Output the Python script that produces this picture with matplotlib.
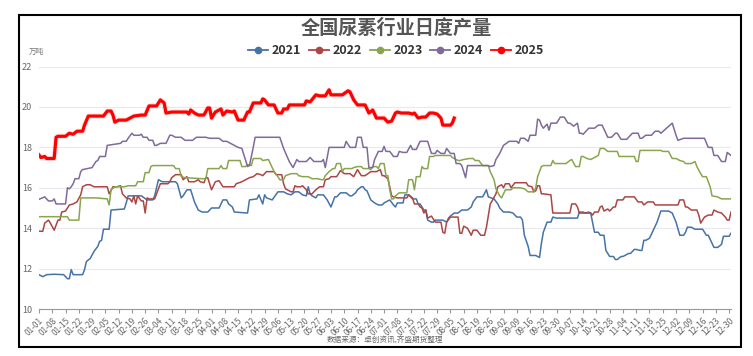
import numpy as np
import pandas as pd
import matplotlib
matplotlib.use("Agg")
import matplotlib.pyplot as plt
from matplotlib.patches import Rectangle

plt.rcParams['font.family'] = ['Noto Sans CJK SC', 'DejaVu Sans']

# -----------------------------
# Data: (day offset from 01-01, daily output in 万吨)
# -----------------------------
pts_2021 = [(0, 11.7), (2, 11.6), (4, 11.7), (8, 11.72), (13, 11.7), (15, 11.5), (16, 11.5), (17, 11.95),
            (18, 11.7), (23, 11.7), (24, 11.95), (25, 12.35), (27, 12.5), (29, 12.85), (31, 13.1), (32, 13.35),
            (33, 13.4), (34, 13.95), (37, 13.95), (38, 14.9), (45, 14.95), (46, 15.25), (47, 15.6), (52, 15.6),
            (54, 15.6), (57, 15.4), (60, 15.4), (61, 15.6), (63, 16.4), (65, 16.3), (72, 16.3), (73, 16.2),
            (75, 15.5), (76, 15.6), (78, 15.9), (80, 15.9), (82, 15.3), (84, 14.9), (86, 14.8), (89, 14.8),
            (91, 15.0), (95, 15.0), (97, 15.4), (99, 15.4), (100, 15.2), (102, 15.05), (103, 14.8), (110, 14.75),
            (111, 15.4), (115, 15.45), (116, 15.65), (118, 15.2), (119, 15.65), (120, 15.5), (123, 15.4),
            (126, 15.8), (129, 15.8), (131, 15.7), (133, 15.65), (135, 15.8), (137, 15.8), (139, 15.65),
            (141, 15.6), (142, 16.05), (143, 15.7), (144, 15.6), (146, 15.5), (147, 15.65), (150, 15.65),
            (152, 15.4), (154, 15.05), (155, 15.3), (156, 15.55), (157, 15.55), (159, 15.75), (162, 15.75),
            (164, 15.6), (165, 15.6), (167, 15.75), (168, 15.9), (170, 16.05), (171, 16.05), (172, 15.9),
            (173, 15.85), (175, 15.4), (177, 15.25), (179, 15.15), (181, 15.15), (182, 15.25), (184, 15.35),
            (185, 15.4), (187, 15.15), (188, 15.05), (189, 15.25), (192, 15.25), (193, 15.65), (195, 15.65),
            (197, 15.45), (199, 15.45), (200, 15.2), (201, 15.2), (203, 14.9), (204, 14.9), (205, 14.4),
            (207, 14.3), (208, 14.3), (209, 14.4), (213, 14.4), (215, 14.3), (216, 14.5), (217, 14.6),
            (219, 14.75), (221, 14.75), (223, 14.9), (226, 14.9), (228, 15.05), (229, 15.3), (231, 15.55),
            (234, 15.55), (236, 15.9), (237, 15.55), (240, 15.45), (242, 15.2), (243, 15.0), (245, 14.8),
            (248, 14.8), (250, 14.75), (252, 14.55), (254, 14.55), (255, 14.4), (256, 13.65), (258, 13.1),
            (259, 12.65), (262, 12.65), (264, 12.55), (265, 13.25), (266, 13.8), (268, 14.3), (270, 14.3),
            (271, 14.55), (273, 14.5), (284, 14.5), (285, 14.8), (287, 14.8), (288, 14.75), (290, 14.8),
            (291, 14.75), (293, 13.8), (295, 13.8), (296, 13.65), (298, 13.65), (299, 12.9), (301, 12.6),
            (303, 12.6), (304, 12.45), (305, 12.45), (307, 12.6), (308, 12.6), (311, 12.75), (312, 12.75),
            (314, 12.95), (315, 12.95), (317, 12.9), (318, 12.9), (319, 13.4), (320, 13.4), (322, 13.5),
            (324, 13.9), (326, 14.3), (328, 14.85), (332, 14.85), (334, 14.75), (336, 14.3), (338, 13.65),
            (340, 13.65), (341, 13.8), (342, 14.05), (344, 14.05), (346, 13.95), (350, 13.95), (352, 13.65),
            (353, 13.65), (356, 13.05), (358, 13.05), (360, 13.2), (361, 13.6), (364, 13.6), (365, 13.75)]

pts_2022 = [(0, 13.85), (2, 13.85), (3, 14.25), (5, 14.4), (6, 14.25), (8, 13.9), (10, 14.4), (11, 14.4),
            (12, 14.8), (14, 14.85), (16, 15.15), (18, 15.2), (20, 15.3), (22, 15.65), (23, 16.05), (25, 16.15),
            (27, 16.15), (29, 16.05), (36, 16.05), (37, 15.7), (39, 16.05), (41, 16.05), (43, 16.1), (44, 15.7),
            (46, 15.5), (48, 15.45), (49, 15.3), (50, 15.6), (51, 15.2), (52, 15.6), (54, 15.35), (55, 15.35),
            (56, 14.75), (57, 15.5), (58, 15.45), (61, 15.45), (62, 15.7), (64, 16.2), (68, 16.2), (69, 16.3),
            (70, 16.5), (72, 16.65), (75, 16.65), (76, 16.4), (78, 16.55), (79, 16.3), (82, 16.3), (84, 16.4),
            (85, 16.3), (87, 16.25), (88, 16.5), (89, 16.5), (90, 16.2), (91, 15.9), (93, 16.3), (95, 16.35),
            (96, 16.2), (97, 16.05), (103, 16.05), (104, 16.2), (107, 16.3), (111, 16.5), (113, 16.55),
            (115, 16.7), (117, 16.65), (118, 16.6), (120, 16.8), (124, 16.8), (125, 16.65), (128, 16.65),
            (129, 16.2), (130, 15.95), (133, 15.8), (134, 15.8), (135, 16.1), (136, 16.05), (138, 16.05),
            (139, 16.1), (141, 15.9), (142, 15.7), (144, 15.7), (146, 15.9), (148, 16.05), (150, 16.05),
            (151, 16.4), (153, 16.45), (154, 16.55), (157, 16.55), (159, 16.85), (161, 16.7), (164, 16.7),
            (166, 16.55), (168, 16.9), (170, 16.6), (172, 16.6), (175, 16.8), (178, 16.8), (180, 16.9),
            (181, 16.6), (182, 16.6), (184, 16.45), (185, 16.05), (186, 15.6), (187, 15.55), (189, 15.5),
            (194, 15.5), (195, 15.65), (197, 15.5), (198, 15.2), (200, 15.2), (201, 15.05), (202, 15.0),
            (203, 14.75), (204, 14.9), (205, 14.5), (207, 14.6), (209, 14.3), (212, 14.3), (213, 13.8),
            (214, 13.75), (215, 14.3), (217, 14.55), (221, 14.55), (222, 13.75), (223, 13.75), (224, 14.1),
            (226, 14.0), (228, 13.65), (229, 13.9), (231, 13.9), (233, 13.65), (235, 13.65), (236, 14.05),
            (238, 15.2), (239, 15.35), (241, 15.7), (242, 16.05), (244, 16.15), (245, 16.0), (246, 16.2),
            (248, 16.2), (249, 16.0), (251, 16.25), (257, 16.25), (258, 16.1), (260, 16.05), (261, 15.8),
            (262, 15.85), (263, 16.1), (264, 16.1), (265, 15.7), (266, 15.7), (270, 15.65), (271, 14.75),
            (280, 14.75), (281, 15.2), (283, 15.2), (284, 15.05), (285, 14.75), (291, 14.75), (292, 14.65),
            (293, 14.8), (295, 14.8), (296, 15.05), (297, 15.1), (298, 14.85), (300, 14.95), (301, 14.85),
            (303, 15.05), (304, 15.05), (305, 15.4), (308, 15.4), (309, 15.55), (314, 15.55), (316, 15.3),
            (318, 15.3), (319, 15.15), (321, 15.3), (324, 15.3), (325, 15.15), (337, 15.15), (338, 15.4),
            (340, 15.4), (341, 15.05), (342, 15.05), (344, 14.9), (347, 14.9), (348, 14.65), (349, 14.25),
            (351, 14.55), (353, 14.65), (355, 14.65), (356, 14.9), (358, 14.8), (360, 14.75), (362, 14.55),
            (363, 14.4), (364, 14.4), (365, 14.8)]

pts_2023 = [(0, 14.57), (15, 14.57), (16, 14.4), (21, 14.4), (22, 15.5), (30, 15.5), (36, 15.45), (37, 15.15),
            (38, 15.9), (40, 16.05), (45, 16.05), (47, 16.1), (51, 16.1), (52, 16.3), (55, 16.3), (56, 16.75),
            (58, 16.75), (59, 17.05), (60, 17.1), (71, 17.1), (72, 16.95), (74, 16.95), (75, 16.55), (77, 16.5),
            (86, 16.45), (88, 16.45), (89, 16.95), (95, 16.95), (96, 17.1), (97, 16.95), (99, 16.95),
            (100, 17.35), (106, 17.35), (107, 17.05), (109, 17.05), (110, 17.15), (112, 17.1), (113, 17.45),
            (117, 17.45), (118, 17.35), (121, 17.4), (122, 17.2), (124, 16.8), (126, 16.55), (127, 16.4),
            (129, 16.4), (130, 16.6), (133, 16.7), (136, 16.7), (137, 16.6), (139, 16.55), (142, 16.55),
            (144, 16.45), (147, 16.45), (149, 16.4), (150, 16.4), (151, 16.6), (153, 16.8), (155, 16.95),
            (156, 16.95), (157, 17.2), (159, 17.2), (160, 16.8), (161, 16.95), (165, 16.95), (166, 17.0),
            (168, 17.05), (170, 17.05), (171, 16.95), (174, 16.95), (175, 16.9), (176, 17.05), (178, 17.05),
            (179, 16.95), (180, 17.2), (182, 17.2), (183, 16.6), (184, 16.6), (185, 15.9), (186, 15.45),
            (187, 15.45), (188, 15.6), (190, 15.75), (194, 15.75), (195, 16.4), (197, 16.4), (198, 15.9),
            (199, 16.55), (201, 16.55), (202, 17.05), (203, 16.95), (205, 16.95), (206, 17.55), (208, 17.55),
            (209, 17.6), (217, 17.6), (218, 17.5), (221, 17.35), (222, 17.35), (224, 17.4), (227, 17.45),
            (229, 17.45), (230, 17.35), (232, 17.35), (234, 17.1), (237, 17.1), (238, 16.8), (240, 16.4),
            (241, 15.95), (243, 15.6), (244, 15.5), (246, 15.9), (249, 15.9), (250, 16.0), (254, 16.0),
            (256, 15.95), (258, 15.8), (261, 15.8), (262, 16.0), (263, 16.55), (265, 17.05), (266, 17.1),
            (270, 17.1), (271, 17.35), (272, 17.2), (278, 17.2), (280, 17.35), (281, 17.4), (283, 17.05),
            (285, 17.05), (286, 17.55), (287, 17.55), (289, 17.45), (291, 17.4), (293, 17.5), (295, 17.6),
            (296, 17.95), (298, 17.95), (300, 17.8), (305, 17.8), (306, 17.55), (314, 17.55), (315, 17.3),
            (316, 17.3), (317, 17.85), (328, 17.85), (329, 17.8), (332, 17.8), (334, 17.45), (336, 17.45),
            (338, 17.35), (340, 17.3), (341, 17.2), (344, 17.2), (346, 17.3), (347, 17.05), (349, 16.7),
            (350, 16.55), (352, 16.55), (354, 16.05), (355, 15.6), (358, 15.55), (360, 15.45), (365, 15.45)]

pts_2024 = [(0, 15.43), (3, 15.55), (4, 15.45), (5, 15.35), (7, 15.35), (8, 15.45), (9, 15.2), (14, 15.2),
            (15, 16.0), (16, 15.95), (17, 16.05), (18, 16.2), (19, 16.45), (21, 16.45), (22, 16.8), (23, 16.9),
            (28, 17.0), (30, 17.3), (31, 17.35), (32, 17.55), (35, 17.55), (36, 18.1), (43, 18.2), (44, 18.3),
            (46, 18.3), (47, 18.45), (49, 18.7), (50, 18.6), (53, 18.6), (54, 18.65), (55, 18.5), (57, 18.5),
            (58, 18.35), (60, 18.35), (61, 18.1), (62, 18.1), (64, 18.2), (67, 18.2), (69, 18.6), (70, 18.6),
            (72, 18.5), (75, 18.5), (77, 18.35), (81, 18.35), (83, 18.5), (88, 18.5), (90, 18.45), (95, 18.45),
            (97, 18.3), (99, 18.3), (101, 18.2), (105, 18.0), (107, 17.95), (110, 17.05), (111, 17.1),
            (113, 18.0), (114, 18.5), (127, 18.5), (129, 17.95), (132, 17.3), (134, 17.0), (136, 17.4),
            (137, 17.3), (141, 17.3), (143, 17.5), (145, 17.3), (149, 17.3), (150, 17.4), (151, 17.0),
            (153, 18.0), (161, 18.0), (162, 18.3), (164, 18.0), (167, 18.0), (168, 18.5), (170, 18.5),
            (171, 18.0), (173, 18.0), (174, 17.0), (176, 17.0), (177, 17.4), (179, 17.8), (181, 17.8),
            (182, 18.05), (183, 17.8), (185, 17.8), (187, 17.55), (189, 17.55), (190, 17.8), (192, 17.75),
            (194, 17.75), (196, 18.1), (197, 17.9), (199, 17.9), (200, 18.1), (201, 18.3), (205, 18.3),
            (207, 17.7), (209, 17.7), (210, 17.85), (212, 17.7), (214, 17.7), (215, 17.95), (217, 17.7),
            (219, 17.7), (220, 17.2), (222, 17.2), (223, 17.1), (225, 16.5), (226, 17.1), (237, 17.1),
            (238, 17.05), (240, 17.1), (241, 17.4), (243, 17.7), (245, 18.1), (248, 18.3), (252, 18.3),
            (253, 18.2), (254, 18.45), (256, 18.45), (258, 18.3), (259, 18.6), (262, 18.6), (263, 19.4),
            (264, 19.35), (265, 19.1), (266, 18.95), (268, 19.15), (269, 18.85), (270, 19.2), (273, 19.2),
            (275, 19.5), (277, 19.5), (279, 19.2), (280, 19.2), (282, 19.05), (284, 19.2), (285, 18.7),
            (286, 18.7), (287, 18.65), (290, 18.95), (293, 18.95), (295, 19.1), (297, 19.1), (300, 18.5),
            (302, 18.5), (304, 18.7), (305, 18.7), (307, 18.4), (310, 18.4), (313, 18.7), (316, 18.7),
            (317, 18.45), (318, 18.45), (320, 18.6), (323, 18.6), (325, 18.8), (327, 18.8), (328, 18.7),
            (331, 18.95), (334, 19.2), (336, 18.6), (337, 18.35), (340, 18.45), (351, 18.45), (353, 18.0),
            (355, 18.0), (356, 17.6), (358, 17.6), (360, 17.3), (362, 17.3), (363, 17.75), (365, 17.6)]

pts_2025 = [(0, 17.62), (1, 17.5), (3, 17.55), (4, 17.45), (8, 17.45), (9, 18.5), (10, 18.55), (14, 18.55),
            (16, 18.7), (18, 18.65), (20, 18.8), (23, 18.8), (24, 19.1), (26, 19.55), (34, 19.55), (36, 19.8),
            (38, 19.8), (39, 19.6), (40, 19.25), (42, 19.35), (46, 19.35), (48, 19.45), (50, 19.55), (54, 19.6),
            (56, 19.6), (58, 20.05), (62, 20.05), (64, 20.35), (66, 20.2), (67, 19.7), (70, 19.75), (78, 19.75),
            (79, 19.65), (80, 19.85), (82, 19.7), (84, 19.6), (87, 19.6), (89, 19.95), (90, 19.95), (91, 19.45),
            (93, 19.75), (96, 19.9), (97, 19.6), (99, 19.8), (102, 19.75), (103, 19.8), (105, 19.35),
            (108, 19.35), (110, 19.75), (111, 19.75), (113, 20.2), (117, 20.2), (118, 20.4), (119, 20.35),
            (121, 20.1), (124, 20.1), (126, 19.7), (128, 19.7), (129, 19.9), (131, 19.9), (132, 20.1),
            (140, 20.1), (141, 20.3), (143, 20.25), (146, 20.6), (148, 20.55), (151, 20.55), (153, 20.85),
            (154, 20.6), (160, 20.6), (163, 20.8), (164, 20.75), (166, 20.35), (168, 20.1), (172, 20.1),
            (174, 19.7), (176, 19.85), (178, 19.45), (182, 19.45), (184, 19.25), (186, 19.3), (188, 19.7),
            (189, 19.75), (191, 19.7), (195, 19.7), (197, 19.65), (198, 19.7), (200, 19.45), (202, 19.5),
            (204, 19.5), (206, 19.7), (208, 19.7), (210, 19.65), (212, 19.45), (213, 19.1), (217, 19.1),
            (218, 19.2), (219, 19.45)]

years = ["2021", "2022", "2023", "2024", "2025"]
colors = ["#4572A7", "#AA4643", "#89A54E", "#80699B", "#FF0000"]
all_pts = [pts_2021, pts_2022, pts_2023, pts_2024, pts_2025]

# category labels every 7 days (leap-year calendar, as on the source axis)
tick_dates = pd.date_range("2024-01-01", "2024-12-30", freq="7D")
tick_pos = (tick_dates - tick_dates[0]).days
tick_labels = tick_dates.strftime("%m-%d")

# -----------------------------
# Plot
# -----------------------------
fig = plt.figure(figsize=(7.53, 3.56), dpi=100)
ax = fig.add_axes([0.0518, 0.132, 0.919, 0.681])

for name, pts, c in zip(years, all_pts, colors):
    d, v = zip(*pts)
    if name == "2025":
        # soft shadow under the current-year line
        ax.plot(d, v, color=c, lw=3.6, alpha=0.12, solid_joinstyle="round")
        ax.plot(d, v, color=c, lw=2.3, solid_joinstyle="round")
    else:
        ax.plot(d, v, color=c, lw=1.1)

ax.set_xlim(0, 365)
ax.set_ylim(10, 22)
ax.set_yticks(np.arange(10, 23, 2))
ax.set_xticks(tick_pos)
ax.set_xticklabels(tick_labels, rotation=45, ha="right", rotation_mode="anchor",
                   fontsize=6, color="#666666")
ax.tick_params(axis="y", length=0, labelsize=6.5, labelcolor="#666666", pad=5)
ax.tick_params(axis="x", length=3, color="#999999", pad=2)
ax.grid(axis="y", color="#E8E8F0", lw=0.8)
ax.set_axisbelow(True)
for s in ["top", "right", "left"]:
    ax.spines[s].set_visible(False)
ax.spines["bottom"].set_color("#999999")

# legend with line + dot handles
handles = []
for name, c in zip(years, colors):
    h, = ax.plot([], [], color=c, lw=1.3, marker="o", markersize=4.5, label=name)
    handles.append(h)
fig.legend(handles=handles, loc="center", bbox_to_anchor=(0.526, 0.857), ncol=5, frameon=False,
           handlelength=1.6, handletextpad=0.3, columnspacing=0.6,
           prop={"size": 9, "weight": "bold"}, labelcolor="#333333")

fig.text(0.526, 0.921, "全国尿素行业日度产量", ha="center", va="center", fontsize=13.8,
         fontweight="bold", color="#555555")
fig.text(0.048, 0.854, "万吨", ha="center", va="center", fontsize=5.5, color="#777777")
fig.text(0.511, 0.045, "数据来源：卓创资讯,齐盛期货整理", ha="center", va="center", fontsize=5.5,
         color="#666666")

# outer frame
fig.patches.append(Rectangle((19 / 753, 1 - 347 / 356), 722 / 753, 332 / 356, transform=fig.transFigure,
                             fill=False, edgecolor="black", lw=1.5))

fig.savefig("out.png", dpi=100)
